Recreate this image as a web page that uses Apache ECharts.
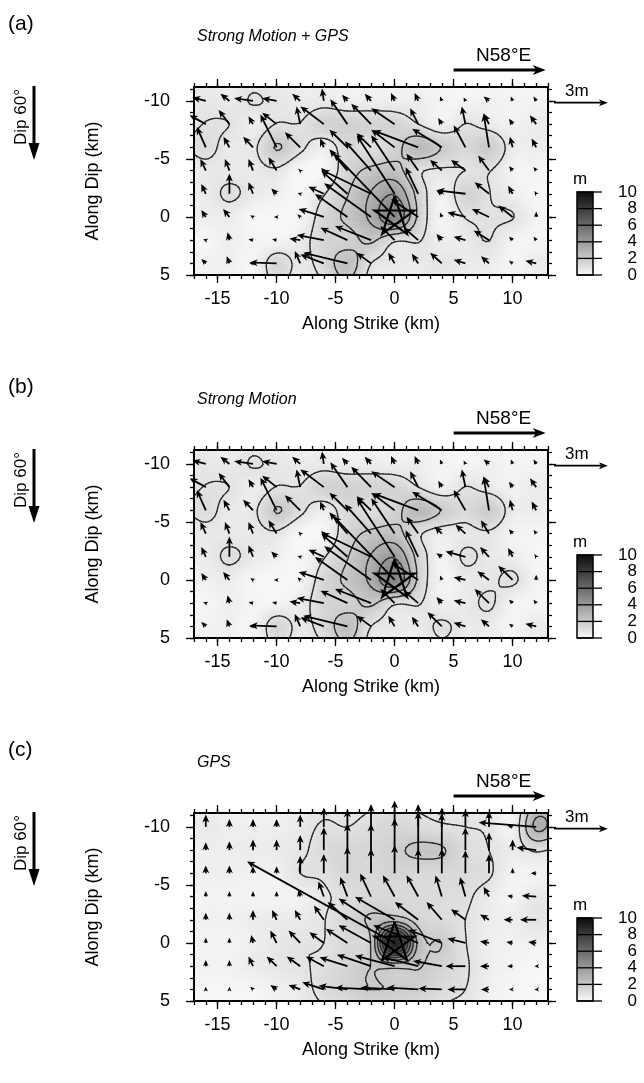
<!DOCTYPE html>
<html>
<head>
<meta charset="utf-8">
<script src="https://cdn.jsdelivr.net/npm/echarts@6/dist/echarts.min.js"></script>
<style>
html,body{margin:0;padding:0;background:#fff}
#chart{width:644px;height:1083px}
</style>
</head>
<body>
<div id="chart"></div>
<script>
// Sub-fault centres (km) and axis ticks
const STRIKE_KM = [-16,-14,-12,-10,-8,-6,-4,-2,0,2,4,6,8,10,12];
const DIP_KM = [-10,-8,-6,-4,-2,0,2,4];
const X_TICKS = [-15,-10,-5,0,5,10];
const Y_TICKS = [-10,-5,0,5];
const X_MINOR = [-17,-16,-15,-14,-13,-12,-11,-10,-9,-8,-7,-6,-5,-4,-3,-2,-1,0,1,2,3,4,5,6,7,8,9,10,11,12,13];
const Y_MINOR = [-11,-10,-9,-8,-7,-6,-5,-4,-3,-2,-1,0,1,2,3,4,5];
const COLORBAR_TICKS = [0,2,4,6,8,10];
const CONTOUR_LEVELS = [1,2,3,4,5,6,7,8,9];
const PANEL_LABELS = ['(a)','(b)','(c)'];
const PANEL_TITLES = ['Strong Motion + GPS','Strong Motion','GPS'];

// Slip (m) per sub-fault: strike component (+ toward +strike) and up-dip component; rows follow DIP_KM
const slipA_strike = [
  [-0.75,-0.5,-1.05,-0.8,-0.45,-0.1,-0.3,-0.35,-0.2,-0.2,-0.1,-0.1,-0.3,-0.1,-0.15],
  [-0.9,-0.6,-0.25,-0.8,-0.2,-1.3,-0.95,-1.1,-1.3,-0.45,-0.2,-0.2,-0.3,-0.2,-0.35],
  [-0.5,-0.33,-0.55,-0.9,-0.85,-0.2,-1.0,-0.8,-1.3,-2.5,-1.65,-0.65,-0.3,-0.15,-0.25],
  [-0.3,-0.25,-0.25,-0.45,-0.1,-0.15,-1.0,-1.45,-1.3,-0.65,-0.65,-0.8,-0.6,-0.2,-0.15],
  [-0.25,0.0,-0.25,-0.3,-0.15,-0.85,-1.45,-2.75,-2.1,-0.7,-0.3,-1.6,-0.8,-0.25,-0.1],
  [-0.25,-0.35,-0.15,-0.15,-0.15,-1.4,-1.8,-2.6,-3.4,-1.5,-0.1,-1.0,-0.95,-0.8,0.0],
  [-0.15,-0.1,-0.25,-0.25,-0.6,-1.5,-1.5,-2.0,-0.8,-0.8,-0.3,-0.65,-0.85,-0.2,-0.15],
  [-0.25,-0.15,-0.2,-1.5,-0.3,-1.3,-2.45,-0.8,-0.35,-0.35,-0.65,-0.65,-0.45,-0.2,-0.6]
];
const slipA_updip = [
  [0.2,0.4,0.15,0.15,0.4,0.7,0.35,0.4,0.45,0.45,0.25,0.2,0.25,0.25,0.25],
  [0.5,0.8,0.45,0.65,1.0,1.0,1.4,1.15,0.9,0.9,0.35,1.0,0.6,0.3,0.5],
  [1.15,0.6,0.6,1.85,0.85,0.5,1.0,0.8,1.0,0.95,1.05,1.25,1.9,0.6,0.5],
  [0.65,0.65,0.65,0.75,0.1,0.15,1.2,1.65,2.0,0.95,0.6,0.6,0.85,0.25,0.2],
  [0.55,1.15,0.65,0.3,0.05,0.4,1.3,1.35,3.3,1.5,0.2,0.2,0.65,0.45,0.15],
  [0.4,0.45,0.1,0.0,0.15,0.45,1.3,1.9,3.6,1.0,0.25,0.25,0.45,0.65,0.3],
  [0.05,0.45,0.05,0.05,0.1,0.3,0.7,0.8,0.8,0.7,0.35,0.2,0.55,0.2,0.2],
  [0.25,0.4,0.0,0.05,0.7,0.5,0.6,0.6,0.6,0.55,0.6,0.2,0.4,0.15,0.15]
];
const slipB_strike = [
  [-0.75,-0.5,-1.05,-0.8,-0.45,-0.1,-0.3,-0.35,-0.2,-0.2,-0.1,-0.1,-0.3,-0.1,-0.15],
  [-0.9,-0.6,-0.25,-0.8,-0.2,-1.3,-0.95,-1.1,-1.3,-0.45,-0.2,-0.2,-0.3,-0.2,-0.35],
  [-0.5,-0.33,-0.55,-0.9,-0.85,-0.2,-1.0,-0.8,-1.3,-2.5,-1.65,-0.65,-0.3,-0.15,-0.25],
  [-0.3,-0.25,-0.25,-0.45,-0.1,-0.15,-1.0,-1.45,-1.3,-0.65,-0.4,-0.55,-0.45,-0.2,-0.15],
  [-0.25,0.0,-0.25,-0.3,-0.15,-0.85,-1.45,-2.75,-2.1,-0.7,-0.3,-1.1,-0.5,-0.25,-0.1],
  [-0.25,-0.35,-0.15,-0.15,-0.15,-1.4,-1.8,-2.6,-3.4,-1.5,-0.1,-0.65,-0.65,-0.8,0.0],
  [-0.15,-0.1,-0.25,-0.25,-0.6,-1.5,-1.5,-2.0,-0.8,-0.8,-0.3,-0.65,-0.8,-0.2,-0.15],
  [-0.25,-0.15,-0.2,-1.5,-0.3,-1.3,-2.45,-0.8,-0.35,-0.35,-0.8,-0.65,-0.45,-0.2,-0.6]
];
const slipB_updip = [
  [0.2,0.4,0.15,0.15,0.4,0.7,0.35,0.4,0.45,0.45,0.25,0.2,0.25,0.25,0.25],
  [0.5,0.8,0.45,0.65,1.0,1.0,1.4,1.15,0.9,0.9,0.35,1.0,0.6,0.3,0.5],
  [1.15,0.6,0.6,1.85,0.85,0.5,1.0,0.8,1.0,0.95,1.05,1.15,1.9,0.6,0.5],
  [0.65,0.65,0.65,0.75,0.1,0.15,1.2,1.65,2.0,0.95,0.4,0.5,0.75,0.25,0.2],
  [0.55,1.15,0.65,0.3,0.05,0.4,1.3,1.35,3.3,1.5,0.2,0.3,0.55,0.5,0.15],
  [0.4,0.45,0.1,0.0,0.15,0.45,1.3,1.9,3.6,1.0,0.25,0.15,0.5,0.8,0.3],
  [0.05,0.45,0.05,0.05,0.1,0.3,0.7,0.8,0.8,0.7,0.35,0.15,0.8,0.2,0.2],
  [0.25,0.4,0.0,0.05,0.7,0.5,0.6,0.6,0.6,0.55,0.8,0.2,0.4,0.15,0.15]
];
const slipC_strike = [
  [0,0,0,0,0,0,0,0,0,0,0,0,0,-0.3,-3.2],
  [0,0,0,0,0,0,0,0,0,0,0,0,0,0,-1.1],
  [0,0,0,0,0,0,0,0,0,0,0,0,0,0,-0.3],
  [0,0,0,0,-0.1,-0.3,-0.4,-0.6,-0.65,-0.65,-0.35,-0.3,-0.3,-0.3,-0.8],
  [0,0,0,-0.25,-0.3,-0.55,-1.1,-1.8,-2.2,-1.3,-0.85,-0.8,-0.5,-0.5,-0.9],
  [0,0,-0.1,-0.35,-0.65,-0.8,-1.2,-1.8,-8.2,-2.5,-1.85,-1.0,-0.5,-0.35,-0.45],
  [0,0,-0.25,-0.55,-0.75,-1.0,-1.55,-1.9,-2.2,-2.0,-1.6,-1.1,-0.5,-0.3,-0.1],
  [0,0,-0.15,-0.35,-0.65,-1.2,-1.6,-2.0,-1.9,-1.75,-1.3,-1.0,-0.45,-0.2,-0.1]
];
const slipC_updip = [
  [0.7,0.45,0.45,0.45,0.7,1.1,1.0,1.3,1.5,1.3,1.1,1.0,0.9,0.1,0.25],
  [0.45,0.5,0.6,0.6,0.85,1.3,1.5,1.5,1.8,2.2,2.1,1.3,1.0,0.6,0.15],
  [0.45,0.45,0.4,0.4,1.0,1.1,1.5,1.4,1.6,1.4,1.4,1.3,1.1,0.3,0.0],
  [0.3,0.3,0.3,0.3,0.4,0.85,1.1,1.3,1.2,1.2,1.2,1.1,0.55,0.05,0.05],
  [0.4,0.4,0.55,0.55,0.55,0.8,1.0,1.2,1.3,1.0,1.0,0.6,0.3,0.0,0.0],
  [0.3,0.3,0.45,0.7,0.7,0.6,0.8,1.0,4.6,1.0,0.75,0.25,0.1,0.05,0.05],
  [0.35,0.35,0.55,0.55,0.55,0.55,0.5,0.65,0.6,0.5,0.3,0.0,0.0,0.0,0.0],
  [0.15,0.15,0.15,0.25,0.25,0.4,0.2,0.1,0.1,0.1,0.05,0.0,0.0,0.0,0.0]
];
const HYPOCENTER = [0, 0];
const SCALE_SLIP_M = 3;

const PANELS = [
  { strike: slipA_strike, updip: slipA_updip },
  { strike: slipB_strike, updip: slipB_updip },
  { strike: slipC_strike, updip: slipC_updip }
];

// ---------- layout ----------
const FONT = '"Liberation Sans", Arial, Helvetica, sans-serif';
const X_MIN = -17, X_MAX = 13, Y_MIN = -11.2, Y_MAX = 5;
const GRID_LEFT = 194, GRID_W = 354, GRID_H = 188;
const PANEL_TOP = [87, 450, 813];
const KM_PER_M = 1.525;          // plot length of one metre of slip
const SLIP_MAX = 10;
const EDGE_TAPER = 0.7;          // slip falls off beyond the outermost sub-faults
const NODE_STEP = 2;             // sub-fault spacing (km)

function grey(v) {
  const g = Math.round(Math.max(0, Math.min(255, 250 - 24 * v)));
  return 'rgb(' + g + ',' + g + ',' + g + ')';
}

function magnitude(su, sd) {
  return su.map((row, j) => row.map((u, i) => Math.hypot(u, sd[j][i])));
}

// node grid with one ring of tapered ghost nodes around it
function paddedGrid(mag) {
  const ny = DIP_KM.length, nx = STRIKE_KM.length, P = [];
  for (let j = 0; j < ny + 2; j++) {
    const jj = Math.min(ny - 1, Math.max(0, j - 1)), row = [];
    for (let i = 0; i < nx + 2; i++) {
      const ii = Math.min(nx - 1, Math.max(0, i - 1));
      const ghost = (i === 0 || i === nx + 1 || j === 0 || j === ny + 1);
      row.push(mag[jj][ii] * (ghost ? EDGE_TAPER : 1));
    }
    P.push(row);
  }
  return P;
}
function catmull(p0, p1, p2, p3, t) {
  return 0.5 * (2 * p1 + (-p0 + p2) * t + (2 * p0 - 5 * p1 + 4 * p2 - p3) * t * t + (-p0 + 3 * p1 - 3 * p2 + p3) * t * t * t);
}
// smooth slip surface through the node values (bicubic, bounded by the cell corners)
function sampler(P) {
  const NY = P.length, NX = P[0].length;
  const gx0 = STRIKE_KM[0] - NODE_STEP, gy0 = DIP_KM[0] - NODE_STEP;
  const at = (j, i) => P[Math.min(NY - 1, Math.max(0, j))][Math.min(NX - 1, Math.max(0, i))];
  return function (x, y) {
    const fx = (x - gx0) / NODE_STEP, fy = (y - gy0) / NODE_STEP;
    const i0 = Math.min(NX - 2, Math.max(0, Math.floor(fx)));
    const j0 = Math.min(NY - 2, Math.max(0, Math.floor(fy)));
    const tx = fx - i0, ty = fy - j0;
    const r = [];
    for (let d = -1; d <= 2; d++) r.push(catmull(at(j0 + d, i0 - 1), at(j0 + d, i0), at(j0 + d, i0 + 1), at(j0 + d, i0 + 2), tx));
    const v = catmull(r[0], r[1], r[2], r[3], ty);
    const c = [at(j0, i0), at(j0, i0 + 1), at(j0 + 1, i0), at(j0 + 1, i0 + 1)];
    return Math.max(Math.min.apply(null, c), Math.min(Math.max.apply(null, c), v));
  };
}

function contourSegments(f, levels) {
  const nx = 120, ny = 65, segs = [];
  const xs = [], ys = [];
  for (let i = 0; i <= nx; i++) xs.push(X_MIN + (X_MAX - X_MIN) * i / nx);
  for (let j = 0; j <= ny; j++) ys.push(Y_MIN + (Y_MAX - Y_MIN) * j / ny);
  const V = ys.map(y => xs.map(x => f(x, y)));
  for (let j = 0; j < ny; j++) {
    for (let i = 0; i < nx; i++) {
      const c = [[xs[i], ys[j], V[j][i]], [xs[i + 1], ys[j], V[j][i + 1]], [xs[i + 1], ys[j + 1], V[j + 1][i + 1]], [xs[i], ys[j + 1], V[j + 1][i]]];
      for (const L of levels) {
        const pts = [];
        for (let e = 0; e < 4; e++) {
          const p = c[e], q = c[(e + 1) % 4];
          if ((p[2] >= L) !== (q[2] >= L)) {
            const w = (L - p[2]) / (q[2] - p[2]);
            pts.push([p[0] + (q[0] - p[0]) * w, p[1] + (q[1] - p[1]) * w]);
          }
        }
        if (pts.length === 2) segs.push(pts);
        else if (pts.length === 4) { segs.push([pts[0], pts[1]]); segs.push([pts[2], pts[3]]); }
      }
    }
  }
  return segs;
}

function arrowShapes(p0, p1, lw, hl, hw) {
  const dx = p1[0] - p0[0], dy = p1[1] - p0[1];
  const len = Math.hypot(dx, dy);
  if (len < 0.3) return [];
  const ux = dx / len, uy = dy / len, nx = -uy, ny = ux;
  const h = Math.min(hl, Math.max(len, hl * 0.6));
  const w = hw * h / hl;
  const bx = p1[0] - ux * h, by = p1[1] - uy * h;
  const notch = 0.28 * h;
  const out = [];
  if (len > h * 0.75) {
    out.push({ type: 'line', silent: true,
      shape: { x1: p0[0], y1: p0[1], x2: p1[0] - ux * h * 0.6, y2: p1[1] - uy * h * 0.6 },
      style: { stroke: '#000', lineWidth: lw } });
  }
  out.push({ type: 'polygon', silent: true,
    shape: { points: [[p1[0], p1[1]], [bx + nx * w, by + ny * w], [bx + ux * notch, by + uy * notch], [bx - nx * w, by - ny * w]] },
    style: { fill: '#000' } });
  return out;
}

const option = { animation: false, grid: [], xAxis: [], yAxis: [], series: [], graphic: { elements: [] } };
const axisLineStyle = { color: '#000', width: 2 };
const tickStyle = { color: '#000', width: 1.3 };
const labelStyle = { color: '#000', fontSize: 18, fontFamily: FONT };
const nameStyle = { color: '#000', fontSize: 18, fontFamily: FONT };

PANELS.forEach((panel, g) => {
  const T = PANEL_TOP[g];
  option.grid.push({ left: GRID_LEFT, top: T, width: GRID_W, height: GRID_H, show: false });

  const xb = { type: 'value', gridIndex: g, min: X_MIN, max: X_MAX, splitLine: { show: false }, z: 10 };
  option.xAxis.push(Object.assign({}, xb, {
    position: 'bottom', axisLine: { onZero: false, lineStyle: axisLineStyle },
    axisTick: { inside: false, length: 8, customValues: X_TICKS, lineStyle: tickStyle },
    axisLabel: Object.assign({ customValues: X_TICKS, margin: 15 }, labelStyle),
    name: 'Along Strike (km)', nameLocation: 'middle', nameGap: 40, nameTextStyle: nameStyle
  }));
  option.xAxis.push(Object.assign({}, xb, {
    position: 'bottom', axisLine: { show: false, onZero: false },
    axisTick: { inside: false, length: 4, customValues: X_MINOR, lineStyle: tickStyle }, axisLabel: { show: false }
  }));
  option.xAxis.push(Object.assign({}, xb, {
    position: 'top', axisLine: { onZero: false, lineStyle: axisLineStyle },
    axisTick: { inside: false, length: 8, customValues: X_TICKS, lineStyle: tickStyle }, axisLabel: { show: false }
  }));
  option.xAxis.push(Object.assign({}, xb, {
    position: 'top', axisLine: { show: false, onZero: false },
    axisTick: { inside: false, length: 4, customValues: X_MINOR, lineStyle: tickStyle }, axisLabel: { show: false }
  }));

  const yb = { type: 'value', gridIndex: g, min: Y_MIN, max: Y_MAX, inverse: true, splitLine: { show: false }, z: 10 };
  option.yAxis.push(Object.assign({}, yb, {
    position: 'left', axisLine: { onZero: false, lineStyle: axisLineStyle },
    axisTick: { inside: false, length: 8, customValues: Y_TICKS, lineStyle: tickStyle },
    axisLabel: Object.assign({ customValues: Y_TICKS, margin: 24 }, labelStyle),
    name: 'Along Dip (km)', nameLocation: 'middle', nameGap: 92, nameRotate: 90, nameTextStyle: nameStyle
  }));
  option.yAxis.push(Object.assign({}, yb, {
    position: 'left', axisLine: { show: false, onZero: false },
    axisTick: { inside: false, length: 4, customValues: Y_MINOR, lineStyle: tickStyle }, axisLabel: { show: false }
  }));
  option.yAxis.push(Object.assign({}, yb, {
    position: 'right', axisLine: { onZero: false, lineStyle: axisLineStyle },
    axisTick: { inside: false, length: 8, customValues: Y_TICKS, lineStyle: tickStyle }, axisLabel: { show: false }
  }));
  option.yAxis.push(Object.assign({}, yb, {
    position: 'right', axisLine: { show: false, onZero: false },
    axisTick: { inside: false, length: 4, customValues: Y_MINOR, lineStyle: tickStyle }, axisLabel: { show: false }
  }));

  const xi = 4 * g, yi = 4 * g;
  const f = sampler(paddedGrid(magnitude(panel.strike, panel.updip)));

  // grey slip field, drawn as thin horizontal bands with a gradient along strike
  const bands = [], nb = 160;
  for (let k = 0; k < nb; k++) {
    const y0 = Y_MIN + (Y_MAX - Y_MIN) * k / nb, y1 = Y_MIN + (Y_MAX - Y_MIN) * (k + 1) / nb;
    bands.push([(X_MIN + X_MAX) / 2, (y0 + y1) / 2, y0, y1]);
  }
  option.series.push({
    type: 'custom', xAxisIndex: xi, yAxisIndex: yi, silent: true, z: 1, data: bands,
    encode: { x: 0, y: 1 },
    renderItem: function (params, api) {
      const yc = api.value(1), y0 = api.value(2), y1 = api.value(3);
      const a = api.coord([X_MIN, y0]), b = api.coord([X_MAX, y1]);
      const stops = [];
      for (let s = 0; s <= 60; s++) {
        const x = X_MIN + (X_MAX - X_MIN) * s / 60;
        stops.push({ offset: s / 60, color: grey(f(x, yc)) });
      }
      return { type: 'rect', silent: true,
        shape: { x: a[0], y: Math.min(a[1], b[1]), width: b[0] - a[0], height: Math.abs(b[1] - a[1]) + 0.6 },
        style: { fill: new echarts.graphic.LinearGradient(0, 0, 1, 0, stops) } };
    }
  });

  // 1 m contours
  const segs = contourSegments(f, CONTOUR_LEVELS);
  option.series.push({
    type: 'custom', xAxisIndex: xi, yAxisIndex: yi, silent: true, z: 2, data: [[0, 0]],
    encode: { x: 0, y: 1 },
    renderItem: function (params, api) {
      return { type: 'group', children: segs.map(s => {
        const a = api.coord(s[0]), b = api.coord(s[1]);
        return { type: 'line', silent: true, shape: { x1: a[0], y1: a[1], x2: b[0], y2: b[1] },
          style: { stroke: '#2a2a2a', lineWidth: 1.3, lineCap: 'round' } };
      }) };
    }
  });

  // slip vectors
  const vecs = [];
  DIP_KM.forEach((y, j) => STRIKE_KM.forEach((x, i) => vecs.push([x, y, panel.strike[j][i], panel.updip[j][i]])));
  option.series.push({
    type: 'custom', xAxisIndex: xi, yAxisIndex: yi, silent: true, z: 3, clip: false, data: vecs,
    encode: { x: 0, y: 1 },
    renderItem: function (params, api) {
      const x = api.value(0), y = api.value(1), u = api.value(2), v = api.value(3);
      const p0 = api.coord([x, y]);
      const p1 = api.coord([x + u * KM_PER_M, y - v * KM_PER_M]);
      return { type: 'group', children: arrowShapes(p0, p1, 1.8, 8, 3.5) };
    }
  });

  // hypocentre star
  option.series.push({
    type: 'custom', xAxisIndex: xi, yAxisIndex: yi, silent: true, z: 4, clip: false, data: [HYPOCENTER],
    encode: { x: 0, y: 1 },
    renderItem: function (params, api) {
      const c = api.coord([api.value(0), api.value(1)]);
      const R = 21, pts = [];
      [0, 2, 4, 1, 3, 0].forEach(k => {
        const a = -Math.PI / 2 + k * 2 * Math.PI / 5;
        pts.push([c[0] + R * Math.cos(a), c[1] + R * Math.sin(a)]);
      });
      return { type: 'polyline', silent: true, shape: { points: pts },
        style: { stroke: '#000', lineWidth: 2.2, fill: null, lineJoin: 'miter' } };
    }
  });

  // strike-direction arrow and slip scale
  option.series.push({
    type: 'custom', xAxisIndex: xi, yAxisIndex: yi, silent: true, z: 4, clip: false,
    data: [[5, -12.67, 12.8, 0], [13.5, -9.85, SCALE_SLIP_M, 0]],
    encode: { x: 0, y: 1 },
    renderItem: function (params, api) {
      const x = api.value(0), y = api.value(1);
      if (params.dataIndex === 0) {
        const p0 = api.coord([x, y]), p1 = api.coord([api.value(2), y]);
        const kids = arrowShapes(p0, p1, 3, 13, 5);
        kids.push({ type: 'text', silent: true, x: (p0[0] + p1[0]) / 2 + 4, y: p0[1] - 5,
          style: { text: 'N58°E', font: '19px ' + FONT, fill: '#000', align: 'center', verticalAlign: 'bottom' } });
        return { type: 'group', children: kids };
      }
      const p0 = api.coord([x, y]), p1 = api.coord([x + api.value(2) * KM_PER_M, y]);
      const kids = arrowShapes(p0, p1, 1.8, 9, 3.5);
      kids.push({ type: 'text', silent: true, x: (p0[0] + p1[0]) / 2 - 4, y: p0[1] - 3,
        style: { text: SCALE_SLIP_M + 'm', font: '17px ' + FONT, fill: '#000', align: 'center', verticalAlign: 'bottom' } });
      return { type: 'group', children: kids };
    }
  });

  // panel labels, title, dip indicator, colour bar
  const E = option.graphic.elements;
  E.push({ type: 'text', x: 8, y: T - 63, silent: true,
    style: { text: PANEL_LABELS[g], font: '21px ' + FONT, fill: '#000', verticalAlign: 'middle' } });
  E.push({ type: 'text', x: 197, y: T - 50, silent: true,
    style: { text: PANEL_TITLES[g], font: 'italic 16px ' + FONT, fill: '#000', verticalAlign: 'middle' } });
  E.push({ type: 'text', x: 21, y: T + 30, rotation: Math.PI / 2, silent: true,
    style: { text: 'Dip 60°', font: '17px ' + FONT, fill: '#000', align: 'center', verticalAlign: 'middle' } });
  E.push({ type: 'line', silent: true, shape: { x1: 34, y1: T - 1, x2: 34, y2: T + 58 },
    style: { stroke: '#000', lineWidth: 3 } });
  E.push({ type: 'polygon', silent: true, shape: { points: [[34, T + 73], [28.5, T + 56], [39.5, T + 56]] },
    style: { fill: '#000' } });

  const cbX = 577, cbW = 16, cbTop = T + 105, cbH = 83;
  const stops = COLORBAR_TICKS.map(v => ({ offset: 1 - v / SLIP_MAX, color: grey(v) })).reverse();
  E.push({ type: 'rect', silent: true, shape: { x: cbX, y: cbTop, width: cbW, height: cbH },
    style: { fill: new echarts.graphic.LinearGradient(0, 0, 0, 1, stops), stroke: '#000', lineWidth: 1.5 } });
  COLORBAR_TICKS.forEach(v => {
    const yy = cbTop + cbH * (1 - v / SLIP_MAX);
    E.push({ type: 'line', silent: true, shape: { x1: cbX, y1: yy, x2: cbX + 25, y2: yy },
      style: { stroke: '#000', lineWidth: 1.3 } });
    E.push({ type: 'text', silent: true, x: 637, y: yy,
      style: { text: String(v), font: '17px ' + FONT, fill: '#000', align: 'right', verticalAlign: 'middle' } });
  });
  E.push({ type: 'text', silent: true, x: 573, y: cbTop - 13,
    style: { text: 'm', font: '17px ' + FONT, fill: '#000', verticalAlign: 'middle' } });
});

const chart = echarts.init(document.getElementById('chart'), null, { renderer: 'canvas' });
chart.setOption(option);
</script>
</body>
</html>
